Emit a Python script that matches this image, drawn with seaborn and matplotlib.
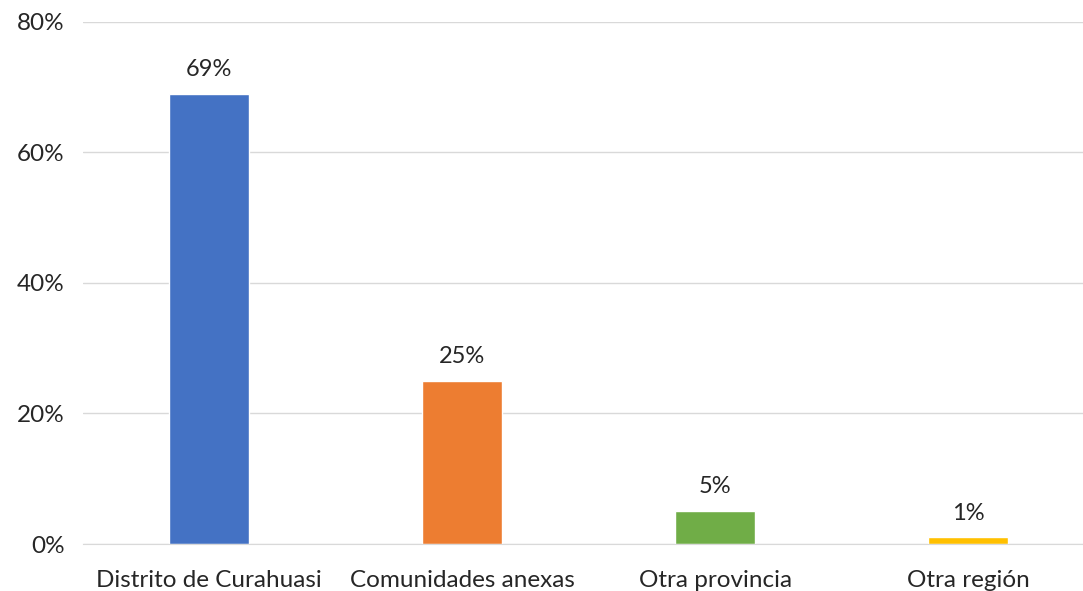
import matplotlib
matplotlib.use("Agg")
import matplotlib.pyplot as plt
import seaborn as sns
import pandas as pd
from matplotlib.ticker import PercentFormatter

categories = ["Distrito de Curahuasi", "Comunidades anexas", "Otra provincia", "Otra región"]
values = [69, 25, 5, 1]
colors = ["#4472C4", "#ED7D31", "#70AD47", "#FFC000"]

df = pd.DataFrame({"origen": categories, "pct": values})

sns.set_style("white")
plt.rcParams["font.family"] = ["Lato", "DejaVu Sans"]

fig = plt.figure(figsize=(10.83, 5.91), dpi=100)
ax = fig.add_axes([0.0762, 0.0795, 0.9238, 0.8835])

sns.barplot(data=df, x="origen", y="pct", hue="origen", palette=colors,
            width=0.316, saturation=1, legend=False, ax=ax)

for c in ax.containers:
    ax.bar_label(c, labels=[f"{v:.0f}%" for v in c.datavalues], padding=10,
                 fontsize=17, color="#262626")

ax.set_ylim(0, 80)
ax.set_xlim(-0.5, 3.454)
ax.set_yticks([0, 20, 40, 60, 80])
ax.yaxis.set_major_formatter(PercentFormatter(decimals=0))
ax.grid(axis="y", color="#D9D9D9", linewidth=1)
ax.set_axisbelow(True)
ax.set_xlabel("")
ax.set_ylabel("")
for s in ["top", "right", "left"]:
    ax.spines[s].set_visible(False)
ax.spines["bottom"].set_color("#D9D9D9")
ax.tick_params(axis="both", length=0, labelsize=17.5, colors="#262626")
ax.tick_params(axis="y", pad=13)
ax.tick_params(axis="x", pad=19)

fig.savefig("out.png", dpi=100)
